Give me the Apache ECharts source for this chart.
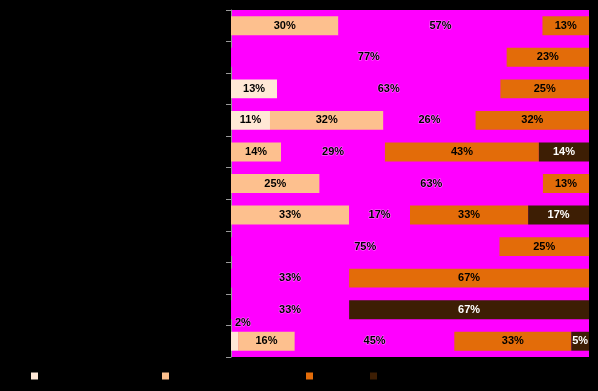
<!DOCTYPE html>
<html><head><meta charset="utf-8">
<script src="https://cdn.jsdelivr.net/npm/echarts@6/dist/echarts.min.js"></script>
<style>html,body{margin:0;padding:0;background:#000}#c{width:598px;height:391px}</style>
</head><body><div id="c"></div>
<script>
const categories = ['Q1','Q2','Q3','Q4','Q5','Q6','Q7','Q8','Q9','Q10','Q11'];
const seriesNames = ['Strongly disagree','Somewhat disagree','Neutral','Agree','Strongly agree'];
const stronglyDisagree = [0, 0, 13, 11, 0, 0, 0, 0, 0, 0, 2];
const somewhatDisagree = [30, 0, 0, 32, 14, 25, 33, 0, 0, 0, 16];
const neutral = [57, 77, 63, 26, 29, 63, 17, 75, 33, 33, 45];
const agree = [13, 23, 25, 32, 43, 13, 33, 25, 67, 0, 33];
const stronglyAgree = [0, 0, 0, 0, 14, 0, 17, 0, 0, 67, 5];

const raw = [stronglyDisagree, somewhatDisagree, neutral, agree, stronglyAgree];
const colors = ['#ffe8d6', '#fdc08e', '#ff00ff', '#e36c09', '#3d1e04'];
const rowSums = categories.map((_, i) => raw.reduce((s, a) => s + a[i], 0));

const baseLabel = {
  show: true, position: 'inside', fontFamily: 'Liberation Sans, Arial, sans-serif',
  fontSize: 11, fontWeight: 'bold', color: '#000'
};
const outline = { textBorderColor: 'rgba(255,255,255,0.45)', textBorderWidth: 1 };

const series = raw.map((arr, si) => ({
  name: seriesNames[si],
  type: 'bar',
  stack: 'total',
  barWidth: '60%',
  itemStyle: { color: colors[si] },
  label: Object.assign({}, baseLabel,
    si === 2 ? outline : {},
    si === 4 ? { color: '#fff' } : {},
    { formatter: p => p.data.pct > 0 ? p.data.pct + '%' : '' }),
  data: arr.map((v, i) => {
    const d = { value: v / rowSums[i] * 100, pct: v };
    if (si === 0 && i === 10) {
      d.label = Object.assign({ position: [4, -14] }, outline);
    }
    return d;
  })
}));

const legendPos = [31, 162, 306, 370];
const legendNames = [seriesNames[0], seriesNames[1], seriesNames[3], seriesNames[4]];
const legends = legendNames.map((n, i) => ({
  data: [n], left: legendPos[i], top: 370, itemWidth: 7, itemHeight: 7, icon: 'rect',
  padding: 0, textStyle: { color: '#000', fontSize: 12 }, selectedMode: false
}));

const chart = echarts.init(document.getElementById('c'));
chart.setOption({
  backgroundColor: '#000',
  animation: false,
  legend: legends,
  grid: { left: 231, right: 9, top: 10, bottom: 34, show: true, backgroundColor: '#ff00ff', borderWidth: 0 },
  xAxis: { type: 'value', min: 0, max: 100, show: false },
  yAxis: {
    type: 'category', data: categories, inverse: true,
    axisLine: { show: true, lineStyle: { color: '#999', width: 1 } },
    axisTick: { show: true, length: 5, lineStyle: { color: '#999' } },
    axisLabel: { show: false }
  },
  series: series
});
</script></body></html>
